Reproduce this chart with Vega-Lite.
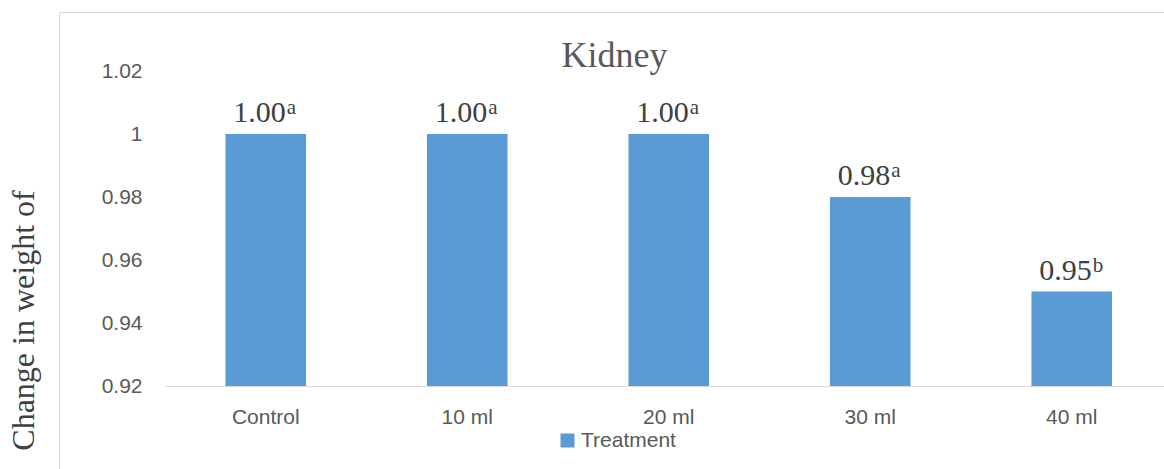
{
  "$schema": "https://vega.github.io/schema/vega-lite/v6.json",
  "width": 1105,
  "height": 457,
  "autosize": {"type": "none"},
  "padding": {"left": 59, "top": 12, "right": 0, "bottom": 0},
  "background": "white",
  "config": {
    "view": {"stroke": "#d9d9d9", "strokeWidth": 1},
    "axis": {"grid": false, "ticks": false, "labelColor": "#595959", "labelFont": "Liberation Sans", "labelFontSize": 21}
  },
  "title": {
    "text": "Kidney",
    "font": "Liberation Serif",
    "fontSize": 36,
    "fontWeight": "normal",
    "color": "#595959",
    "anchor": "middle",
    "frame": "group",
    "baseline": "alphabetic",
    "offset": -91,
    "dx": 3
  },
  "data": {
    "values": [
      {"group": "Control", "value": 1.00, "label": "1.00", "sup": "a"},
      {"group": "10 ml", "value": 1.00, "label": "1.00", "sup": "a"},
      {"group": "20 ml", "value": 1.00, "label": "1.00", "sup": "a"},
      {"group": "30 ml", "value": 0.98, "label": "0.98", "sup": "a"},
      {"group": "40 ml", "value": 0.95, "label": "0.95", "sup": "b"}
    ]
  },
  "encoding": {
    "x": {
      "field": "group",
      "type": "nominal",
      "sort": null,
      "scale": {"range": [106, 1113.5], "paddingInner": 0.6, "paddingOuter": 0.3},
      "axis": {
        "title": null,
        "orient": "bottom",
        "offset": -83,
        "labelAngle": 0,
        "labelPadding": 20,
        "labelBaseline": "top",
        "domain": true,
        "domainColor": "#d9d9d9",
        "domainWidth": 1.2
      }
    },
    "y": {
      "field": "value",
      "type": "quantitative",
      "scale": {"domain": [0.92, 1.02], "range": [374, 59], "zero": false, "nice": false},
      "axis": {
        "values": [0.92, 0.94, 0.96, 0.98, 1, 1.02],
        "format": "~g",
        "labelAlign": "right",
        "labelBaseline": "middle",
        "labelPadding": -83,
        "domain": false,
        "title": "Change in weight of",
        "titleFont": "Liberation Serif",
        "titleFontSize": 32,
        "titleFontWeight": "normal",
        "titleColor": "#404040",
        "titleAngle": -90,
        "titleAlign": "center",
        "titleBaseline": "alphabetic",
        "titleX": -26,
        "titleY": 308
      }
    }
  },
  "layer": [
    {
      "mark": {"type": "bar"},
      "encoding": {
        "y2": {"datum": 0.92},
        "color": {
          "datum": "Treatment",
          "type": "nominal",
          "scale": {"range": ["#5b9bd5"]},
          "legend": {
            "orient": "none",
            "legendX": 498,
            "legendY": 418,
            "title": null,
            "padding": 0,
            "symbolType": "square",
            "symbolSize": 196,
            "symbolStrokeWidth": 0,
            "labelFont": "Liberation Sans",
            "labelFontSize": 21,
            "labelColor": "#595959",
            "labelOffset": 3
          }
        }
      }
    },
    {
      "mark": {"type": "text", "align": "right", "baseline": "alphabetic", "dx": 20, "dy": -12, "font": "Liberation Serif", "fontSize": 30, "color": "#404040"},
      "encoding": {"text": {"field": "label"}}
    },
    {
      "mark": {"type": "text", "align": "left", "baseline": "alphabetic", "dx": 21, "dy": -20, "font": "Liberation Serif", "fontSize": 21, "color": "#404040"},
      "encoding": {"text": {"field": "sup"}}
    }
  ]
}
